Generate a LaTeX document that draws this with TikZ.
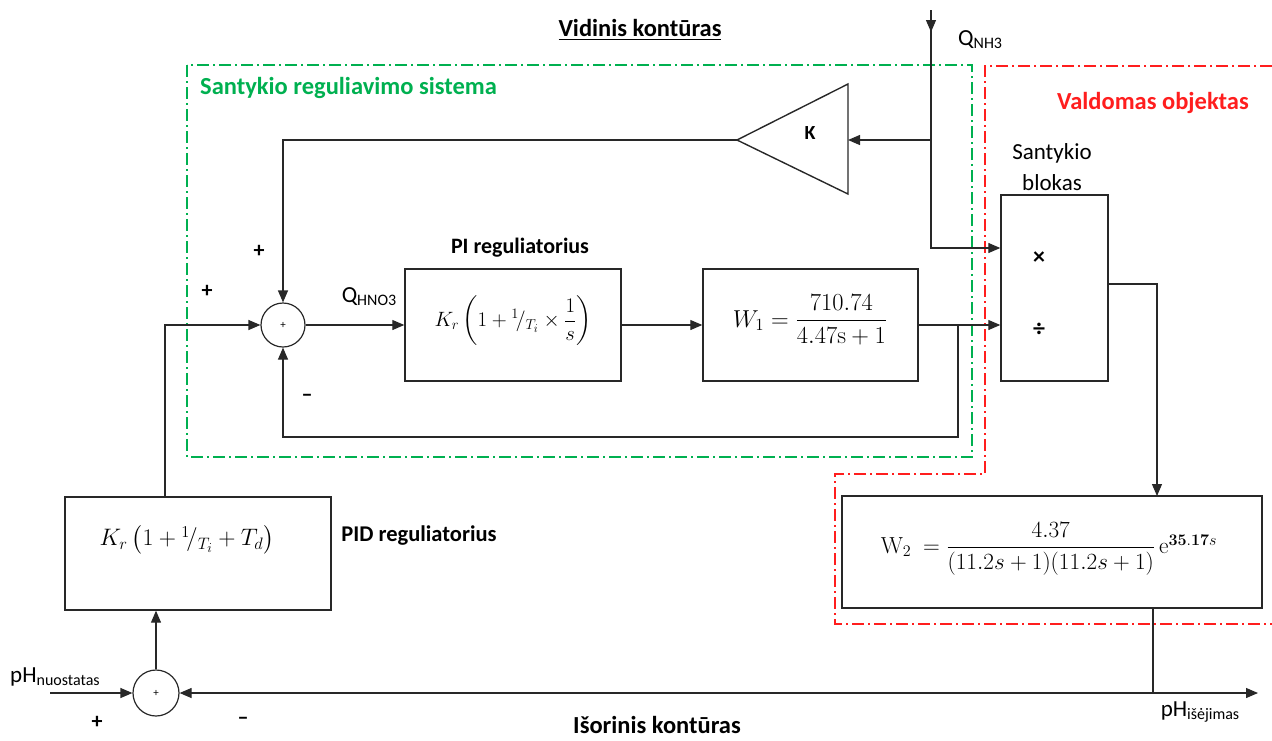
\documentclass[tikz,border=0pt]{standalone}
\usepackage{amsmath}
\usepackage[no-math]{fontspec}
\setmainfont{Carlito}
\usetikzlibrary{arrows.meta}
\definecolor{grn}{RGB}{0,176,80}
\definecolor{rd}{RGB}{255,30,30}
\definecolor{ln}{RGB}{40,40,40}
\newcommand{\sub}[1]{\raisebox{-0.25ex}{\fontsize{16}{16}\selectfont #1}}
\tikzset{
  blk/.style={draw=ln, line width=1.4pt, inner sep=0pt, rectangle},
  sumnode/.style={circle, draw=ln, line width=1.2pt, minimum size=44pt, inner sep=0pt,
    font=\fontsize{11}{11}\selectfont},
  sig/.style={draw=ln, line width=1.2pt, -{Triangle[length=12pt,width=10pt]}},
  wire/.style={draw=ln, line width=1.2pt},
  frame/.style={line width=1.6pt, dash pattern=on 12pt off 4pt on 2pt off 4pt},
  lbl/.style={font=\fontsize{23}{31}\selectfont, text=black, inner sep=0pt},
  ttl/.style={font=\fontsize{24.5}{28}\selectfont\bfseries, inner sep=0pt},
  fml/.style={font=\fontsize{20.74}{25}\selectfont, inner sep=0pt},
  sgn/.style={font=\fontsize{22}{22}\selectfont\bfseries, inner sep=0pt},
}
\begin{document}
\begin{tikzpicture}[x=1pt,y=-1pt]
\useasboundingbox (0,0) rectangle (1272,740);

% frames of the two sub-systems
\draw[grn, frame] (187,65) rectangle (972,457);
\draw[rd, frame] (1272,66) -- (985,66) -- (985,474) -- (835,474) -- (835,624) -- (1272,624);

% titles
\node[ttl] (tin) at (640,30) {\underline{Vidinis kontūras}};
\node[ttl] (tout) at (657,725) {Išorinis kontūras};
\node[ttl, text=grn, anchor=west] (tgrn) at (200,88) {Santykio reguliavimo sistema};
\node[ttl, text=rd] (trd) at (1153,103) {Valdomas objektas};

% blocks
\node[blk, minimum width=216pt, minimum height=112pt] (pi) at (513,325) {};
\node[fml] (pif) at (513,321) {$K_r\left(1+{}^{1}\!/_{T_i}\times\dfrac{1}{s}\right)$};
\node[ttl, font=\fontsize{22}{26}\selectfont\bfseries] (pil) at (520,248) {PI reguliatorius};

\node[blk, minimum width=215pt, minimum height=112pt] (w1) at (810.5,325) {};
\node[fml] (w1f) at (810,320) {\scalebox{1.18}{$W_1=\dfrac{710.74}{4.47\mathrm{s}+1}$}};

\node[blk, minimum width=107pt, minimum height=186pt] (ratio) at (1054.5,288) {};
\node[lbl, align=center] (ratiol) at (1052,167) {Santykio\\blokas};
\node[lbl, font=\fontsize{24}{24}\selectfont\bfseries] (mul) at (1039,258) {×};
\node[lbl, font=\fontsize{24}{24}\selectfont\bfseries] (dvd) at (1039,330) {÷};

\node[blk, minimum width=420pt, minimum height=112pt] (w2) at (1052,552) {};
\node[fml] (w2f) at (1049,549) {\scalebox{1.12}{$\mathrm{W}_2\ =\dfrac{4.37}{(11.2s+1)(11.2s+1)}\,\mathrm{e}^{\mathbf{35.17}s}$}};

\node[blk, minimum width=266pt, minimum height=113pt] (pid) at (198,553.5) {};
\node[fml] (pidf) at (187,540) {\scalebox{1.15}{$K_r\left(1+{}^{1}\!/_{T_i}+T_d\right)$}};
\node[ttl, font=\fontsize{22.5}{26}\selectfont\bfseries] (pidl) at (419,536) {PID reguliatorius};

% gain K
\coordinate (gaintip) at (737,140);
\coordinate (gainin) at (848,140);
\draw[ln, line width=1.4pt] (gaintip) -- (848,84) -- (848,194) -- cycle;
\node[ttl, font=\fontsize{20}{20}\selectfont\bfseries] (k) at (810,133) {K};

% summing junctions
\node[sumnode] (sum1) at (283,325) {+};
\node[sumnode, minimum size=46pt] (sum2) at (156,693) {+};

% signal labels
\node[lbl, anchor=west] (qnh) at (958,40) {Q\sub{NH3}};
\node[lbl] (qhno) at (369,297) {Q\sub{HNO3}};
\node[lbl, anchor=west] (phn) at (10,677) {pH\sub{nuostatas}};
\node[lbl] (phi) at (1200,712) {pH\sub{išėjimas}};

% signs
\node[sgn] (s1) at (259,251) {+};
\node[sgn] (s2) at (207,291) {+};
\node[sgn] (s3) at (307,398) {–};
\node[sgn] (s4) at (97,722) {+};
\node[sgn] (s5) at (243,721) {–};

% connection points
\coordinate (qin) at (931,10);
\coordinate (j1) at (931,248);
\coordinate (j2) at (931,140);
\coordinate (j3) at (958,325);
\coordinate (pidout) at (165,497);
\coordinate (rout) at (1108,284);
\coordinate (w2in) at (1157,496);
\coordinate (w2out) at (1153,608);
\coordinate (j4) at (1153,693);
\coordinate (yout) at (1258,693);
\coordinate (rin) at (50,693);

% inner loop
\draw[sig] (qin) -- ++(0,22);
\draw[sig] (qin) -- (j1) -- (j1 -| ratio.west);
\draw[sig] (j2) -- (gainin);
\draw[sig] (gaintip) -| (sum1.north);
\draw[sig] (pidout) |- (sum1.west);
\draw[sig] (sum1.east) -- (pi.west);
\draw[sig] (pi.east) -- (w1.west);
\draw[sig] (w1.east) -- (w1.east -| ratio.west);
\draw[sig] (j3) -- (958,437) -| (sum1.south);

% plant and outer loop
\draw[sig] (rout) -| (w2in);
\draw[wire] (w2out) -- (j4);
\draw[sig] (j4) -- (yout);
\draw[sig] (j4) -- (sum2.east);
\draw[sig] (rin) -- (sum2.west);
\draw[sig] (sum2.north) -- (sum2.north |- pid.south);
\end{tikzpicture}
\end{document}
